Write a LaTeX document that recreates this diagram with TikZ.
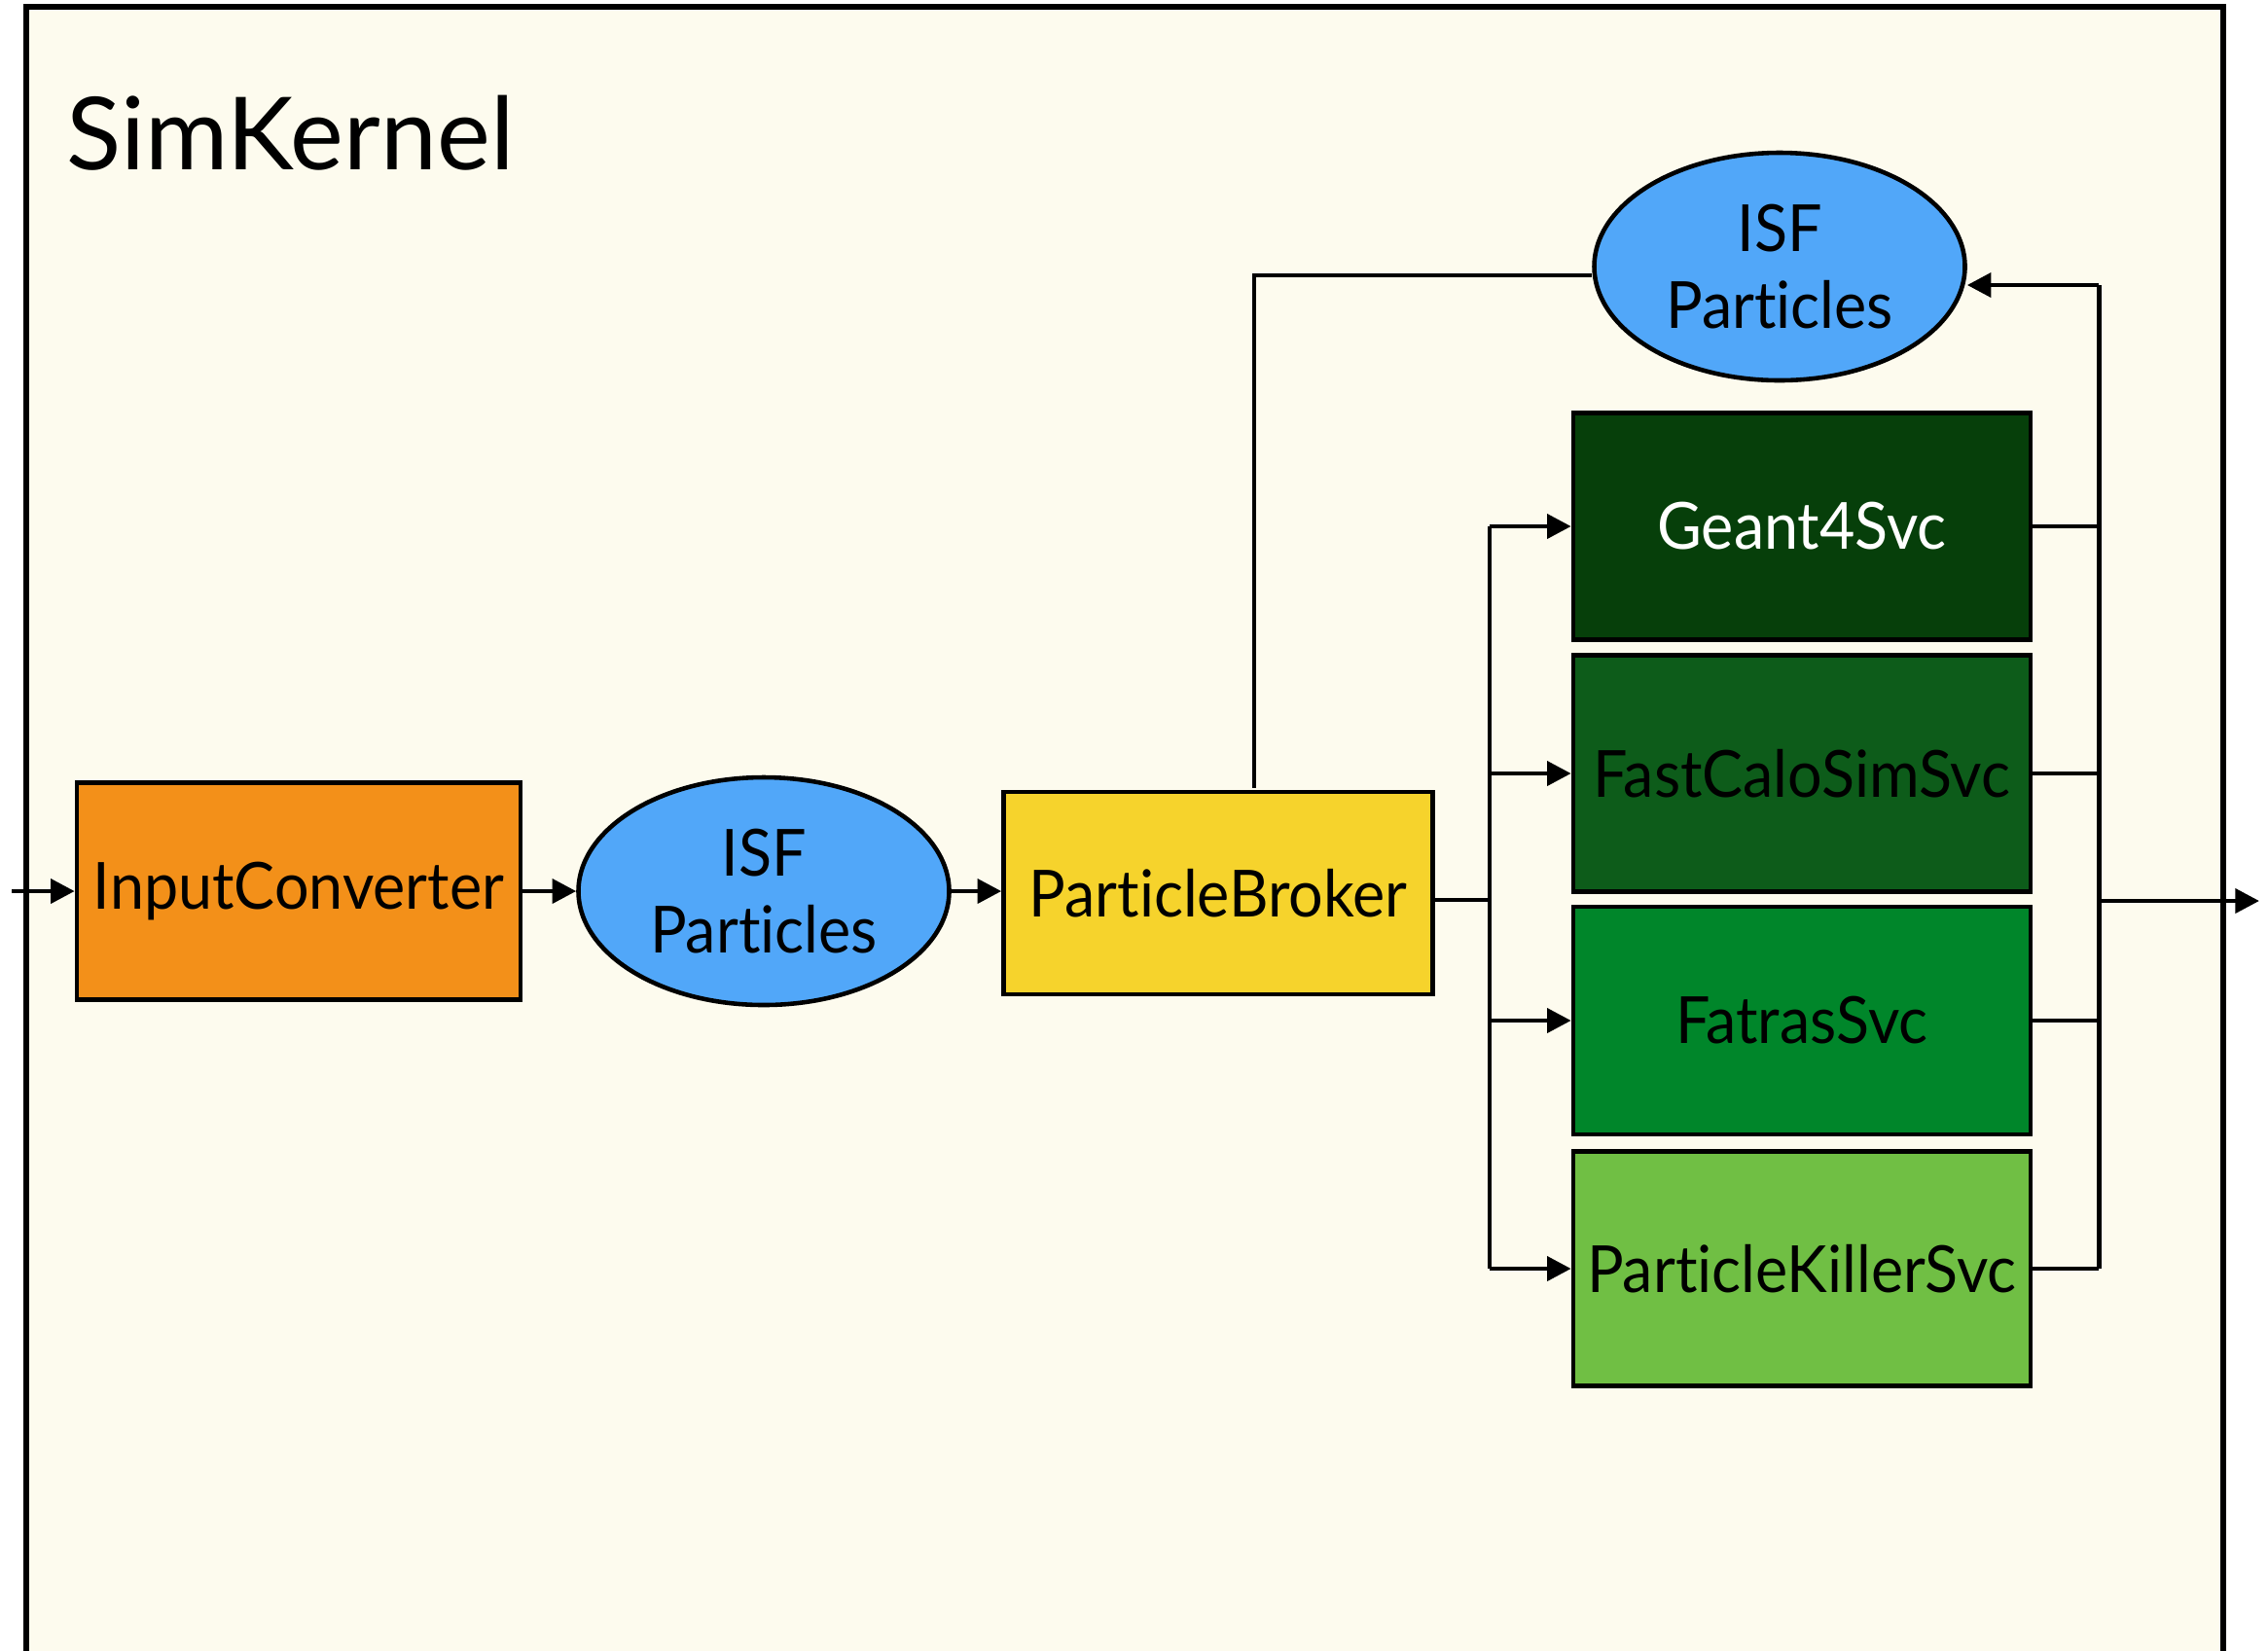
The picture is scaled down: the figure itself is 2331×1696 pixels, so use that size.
\documentclass[tikz,border=0pt]{standalone}
\usepackage{fontspec}
\setmainfont{Lato}
\newfontfamily\boxfont{Lato}[FakeStretch=0.94, Ligatures=NoCommon]
\usetikzlibrary{shapes.geometric,arrows.meta,calc}

\newdimen\pxu \pxu=0.01cm

\definecolor{kernelbg}{RGB}{253,251,238}
\definecolor{convorange}{RGB}{243,144,25}
\definecolor{isfblue}{RGB}{81,167,249}
\definecolor{brokeryellow}{RGB}{246,211,44}
\definecolor{geantgreen}{RGB}{6,63,10}
\definecolor{fastgreen}{RGB}{13,92,26}
\definecolor{fatrasgreen}{RGB}{0,134,42}
\definecolor{killergreen}{RGB}{112,191,68}

\tikzset{
  block/.style={draw=black, line width=1.3pt, rectangle, inner sep=0pt,
    font=\boxfont\fontsize{19}{22}\selectfont, text=black},
  store/.style={draw=black, line width=1.3pt, ellipse, inner sep=0pt,
    minimum width=381\pxu, minimum height=234\pxu, fill=isfblue,
    align=center, font=\boxfont\fontsize{19}{22.5}\selectfont},
  svc/.style={block, minimum width=470\pxu},
  link/.style={line width=1.4pt, draw=black},
  arr/.style={link, -{Triangle[length=7pt,width=7pt]}},
}

\begin{document}
\begin{tikzpicture}[x=0.01cm, y=-0.01cm]
  \useasboundingbox (0,0) rectangle (2331,1696);
  \fill[white] (0,0) rectangle (2331,1696);

  % kernel frame, open at the bottom
  \fill[kernelbg] (27,7) rectangle (2285,1700);
  \draw[line width=1.6pt] (27,1700) -- (27,7) -- (2285,7) -- (2285,1700);
  \node[anchor=base west, font=\fontsize{29.5}{34}\selectfont, inner sep=0pt]
    (title) at (68,174) {SimKernel};

  % main chain
  \node[block, fill=convorange, minimum width=456\pxu, minimum height=223\pxu]
    (ic) at (307,916) {InputConverter};
  \node[store] (isf1) at (785,916) {ISF\\Particles};
  \node[block, fill=brokeryellow, minimum width=441\pxu, minimum height=208\pxu]
    (pb) at (1252,918) {ParticleBroker};

  % returned particles
  \node[store] (isf2) at (1829,274) {ISF\\Particles};

  % simulation services
  \node[svc, fill=geantgreen, text=white, minimum height=233\pxu] (g4) at (1852,541) {Geant4Svc};
  \node[svc, fill=fastgreen, minimum height=243\pxu] (fc) at (1852,795) {FastCaloSimSvc};
  \node[svc, fill=fatrasgreen, minimum height=234\pxu] (ft) at (1852,1049) {FatrasSvc};
  \node[svc, fill=killergreen, minimum height=241\pxu] (pk) at (1852,1304) {ParticleKillerSvc};

  % junction points
  \coordinate (in) at (12,916);
  \coordinate (split) at (1531,925);
  \coordinate (merge) at (2157,926);
  \coordinate (ret) at (2157,293);
  \coordinate (out) at (2322,926);
  \coordinate (up) at (1289,810);

  % input chain
  \draw[arr] (in) -- (ic.west);
  \draw[arr] (ic.east) -- (isf1.west);
  \draw[arr] (isf1.east) -- (isf1.east -| pb.west);

  % feedback into the broker
  \draw[link] ([yshift=-9\pxu]isf2.west) -| (up);

  % dispatch to services
  \draw[link] (pb.east |- split) -- (split);
  \draw[link] (g4.west -| split) -- (pk.west -| split);
  \foreach \s in {g4,fc,ft,pk}
    \draw[arr] (\s.west -| split) -- (\s.west);

  % collect from services
  \foreach \s in {g4,fc,ft,pk}
    \draw[link] (\s.east) -- (\s.east -| merge);
  \draw[link] (ret) -- (pk.east -| merge);
  \draw[arr] (ret) -- (ret -| isf2.east);
  \draw[arr] (merge) -- (out);
\end{tikzpicture}
\end{document}
